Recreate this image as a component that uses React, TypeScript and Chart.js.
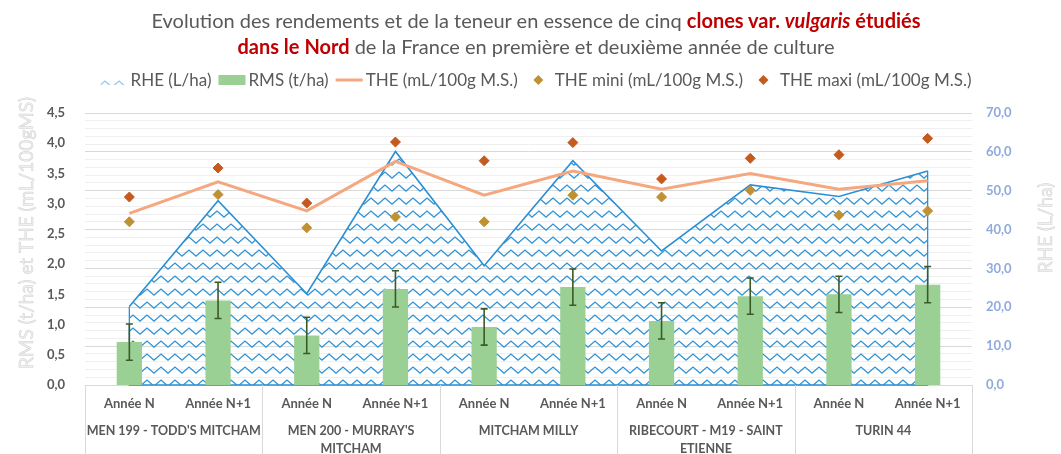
import React, { useEffect, useRef } from 'react';
import { Chart, registerables } from 'chart.js';

Chart.register(...registerables);

// ---- Data ----
const subLabels = ['Année N', 'Année N+1'];
const clones: string[][] = [
  ["MEN 199 - TODD'S MITCHAM"],
  ["MEN 200 - MURRAY'S", 'MITCHAM'],
  ['MITCHAM MILLY'],
  ['RIBECOURT - M19 - SAINT', 'ETIENNE'],
  ['TURIN 44'],
];
const categories: string[] = clones.flatMap(() => subLabels);

const rhe = [20.2, 47.4, 23.5, 60.1, 30.7, 57.7, 34.5, 51.5, 48.5, 55.1];
const rms = [0.71, 1.4, 0.82, 1.59, 0.96, 1.62, 1.06, 1.47, 1.5, 1.66];
const rmsErr = [0.3, 0.3, 0.3, 0.3, 0.3, 0.3, 0.3, 0.3, 0.3, 0.3];
const the = [2.84, 3.36, 2.88, 3.7, 3.14, 3.54, 3.24, 3.5, 3.24, 3.38];
const theMin = [2.7, 3.15, 2.6, 2.78, 2.7, 3.14, 3.11, 3.22, 2.81, 2.88];
const theMax = [3.11, 3.59, 3.01, 4.02, 3.71, 4.01, 3.41, 3.75, 3.81, 4.08];

const leftTicksMax = 4.5;
const rightTicksMax = 70;

const seriesNames = [
  'RHE (L/ha)',
  'RMS (t/ha)',
  'THE (mL/100g M.S.)',
  'THE mini (mL/100g M.S.)',
  'THE maxi (mL/100g M.S.)',
];
const leftTitle = 'RMS (t/ha) et THE (mL/100gMS)';
const rightTitle = 'RHE (L/ha)';

// ---- Styles ----
const FONT = 'Lato, "Open Sans", sans-serif';
const GRAY = '#595959';
const BLUE = '#2B8FD4';
const PAT_BLUE = '#2F93D6';
const GREEN = '#9BD094';
const SALMON = '#F5A77F';
const MINI = '#BF9135';
const MAXI = '#C55A1E';
const ERR = '#3A5A28';

function makePattern(alpha = 1): CanvasPattern | string {
  const c = document.createElement('canvas');
  c.width = 14;
  c.height = 13;
  const g = c.getContext('2d');
  if (!g) return PAT_BLUE;
  g.globalAlpha = alpha;
  g.strokeStyle = PAT_BLUE;
  g.lineWidth = 1.25;
  g.lineJoin = 'miter';
  g.beginPath();
  g.moveTo(-1, 10);
  g.lineTo(7, 3);
  g.lineTo(15, 10);
  g.stroke();
  const p = g.createPattern(c, 'repeat');
  return p || PAT_BLUE;
}

export default function App() {
  const ref = useRef<HTMLCanvasElement | null>(null);

  useEffect(() => {
    if (!ref.current) return;
    const pattern = makePattern();
    const legendPattern = makePattern(0.5);

    const errorBars = {
      id: 'errorBars',
      afterDatasetDraw(chart: any, args: any) {
        if (args.index !== 1) return;
        const ctx = chart.ctx;
        const y = chart.scales.y;
        ctx.save();
        ctx.strokeStyle = ERR;
        ctx.lineWidth = 1.6;
        args.meta.data.forEach((el: any, i: number) => {
          const x = el.x;
          const top = y.getPixelForValue(rms[i] + rmsErr[i]);
          const bot = y.getPixelForValue(rms[i] - rmsErr[i]);
          ctx.beginPath();
          ctx.moveTo(x, top);
          ctx.lineTo(x, bot);
          ctx.moveTo(x - 3.5, top);
          ctx.lineTo(x + 3.5, top);
          ctx.moveTo(x - 3.5, bot);
          ctx.lineTo(x + 3.5, bot);
          ctx.stroke();
        });
        ctx.restore();
      },
    };

    const areaOutline = {
      id: 'areaOutline',
      afterDatasetDraw(chart: any, args: any) {
        if (args.index !== 0) return;
        const pts = args.meta.data;
        const base = chart.scales.y1.getPixelForValue(0);
        const ctx = chart.ctx;
        ctx.save();
        ctx.strokeStyle = BLUE;
        ctx.lineWidth = 1.3;
        ctx.beginPath();
        ctx.moveTo(pts[0].x, pts[0].y);
        ctx.lineTo(pts[0].x, base);
        ctx.lineTo(pts[pts.length - 1].x, base);
        ctx.lineTo(pts[pts.length - 1].x, pts[pts.length - 1].y);
        ctx.stroke();
        ctx.restore();
      },
    };

    const decorations = {
      id: 'decorations',
      afterDraw(chart: any) {
        const ctx = chart.ctx;
        const xs = chart.scales.x;
        const area = chart.chartArea;
        ctx.save();
        // x labels
        ctx.fillStyle = GRAY;
        ctx.textAlign = 'center';
        ctx.textBaseline = 'middle';
        ctx.font = `bold 13px ${FONT}`;
        categories.forEach((lab, i) => {
          ctx.fillText(lab, xs.getPixelForValue(i), area.bottom + 19);
        });
        ctx.font = `bold 12.5px ${FONT}`;
        clones.forEach((lines, g) => {
          const cx = (xs.getPixelForValue(2 * g) + xs.getPixelForValue(2 * g + 1)) / 2;
          lines.forEach((ln, k) => {
            ctx.fillText(ln, cx, area.bottom + 46 + k * 17.5);
          });
        });
        // separators
        ctx.strokeStyle = '#D9D9D9';
        ctx.lineWidth = 1;
        const seps: number[] = [area.left];
        for (let g = 1; g < clones.length; g++) {
          seps.push((xs.getPixelForValue(2 * g - 1) + xs.getPixelForValue(2 * g)) / 2);
        }
        seps.push(area.right);
        seps.forEach((sx) => {
          const px = Math.round(sx) + 0.5;
          ctx.beginPath();
          ctx.moveTo(px, area.bottom);
          ctx.lineTo(px, chart.height);
          ctx.stroke();
        });

        // axis titles
        ctx.font = `19px ${FONT}`;
        ctx.fillStyle = '#F0F0F0';
        ctx.strokeStyle = '#D0D0D0';
        ctx.lineWidth = 0.5;
        ctx.save();
        ctx.translate(27, 233);
        ctx.rotate(-Math.PI / 2);
        ctx.fillText(leftTitle, 0, 0);
        ctx.strokeText(leftTitle, 0, 0);
        ctx.restore();
        ctx.save();
        ctx.translate(1046, 228);
        ctx.rotate(-Math.PI / 2);
        ctx.fillText(rightTitle, 0, 0);
        ctx.strokeText(rightTitle, 0, 0);
        ctx.restore();

        // legend
        ctx.font = `17px ${FONT}`;
        ctx.textAlign = 'left';
        const sw = 27;
        const gapT = 3;
        const gapI = 7;
        const widths = seriesNames.map((n) => ctx.measureText(n).width);
        const total = widths.reduce((a, w) => a + sw + gapT + w, 0) + gapI * (seriesNames.length - 1);
        let lx = 536 - total / 2;
        const ly = 80;
        seriesNames.forEach((name, i) => {
          if (i === 0) {
            ctx.fillStyle = legendPattern as any;
            ctx.fillRect(lx, ly - 5, sw, 10);
          } else if (i === 1) {
            ctx.fillStyle = GREEN;
            ctx.fillRect(lx, ly - 5, sw, 10);
          } else if (i === 2) {
            ctx.strokeStyle = SALMON;
            ctx.lineWidth = 3;
            ctx.beginPath();
            ctx.moveTo(lx, ly);
            ctx.lineTo(lx + sw, ly);
            ctx.stroke();
          } else {
            ctx.fillStyle = i === 3 ? MINI : MAXI;
            const cx = lx + sw / 2;
            ctx.beginPath();
            ctx.moveTo(cx - 5, ly);
            ctx.lineTo(cx, ly - 5);
            ctx.lineTo(cx + 5, ly);
            ctx.lineTo(cx, ly + 5);
            ctx.closePath();
            ctx.fill();
          }
          ctx.fillStyle = GRAY;
          ctx.fillText(name, lx + sw + gapT, ly + 1);
          lx += sw + gapT + widths[i] + gapI;
        });
        ctx.restore();
      },
    };

    const fmt = (v: number) => v.toFixed(1).replace('.', ',');

    const chart = new Chart(ref.current, {
      type: 'bar',
      data: {
        labels: categories,
        datasets: [
          {
            type: 'line',
            label: seriesNames[0],
            data: rhe,
            yAxisID: 'y1',
            fill: 'origin',
            backgroundColor: pattern as any,
            borderColor: BLUE,
            borderWidth: 1.6,
            pointRadius: 0,
            tension: 0,
            order: 5,
          } as any,
          {
            type: 'bar',
            label: seriesNames[1],
            data: rms,
            yAxisID: 'y',
            backgroundColor: GREEN,
            categoryPercentage: 0.285,
            barPercentage: 1,
            order: 4,
          },
          {
            type: 'line',
            label: seriesNames[2],
            data: the,
            yAxisID: 'y',
            borderColor: SALMON,
            borderWidth: 3,
            pointRadius: 0,
            fill: false,
            order: 3,
          },
          {
            type: 'line',
            label: seriesNames[3],
            data: theMin,
            yAxisID: 'y',
            showLine: false,
            pointStyle: 'rectRot',
            pointRadius: 5,
            pointBorderWidth: 1,
            backgroundColor: MINI,
            borderColor: MINI,
            order: 2,
          },
          {
            type: 'line',
            label: seriesNames[4],
            data: theMax,
            yAxisID: 'y',
            showLine: false,
            pointStyle: 'rectRot',
            pointRadius: 5,
            pointBorderWidth: 1,
            backgroundColor: MAXI,
            borderColor: MAXI,
            order: 1,
          },
        ],
      },
      options: {
        responsive: false,
        animation: false,
        layout: { padding: { top: 113, left: 0, right: 0, bottom: 0 } },
        plugins: {
          legend: { display: false },
          title: { display: false },
          tooltip: { enabled: false },
        },
        scales: {
          x: {
            type: 'category',
            offset: true,
            ticks: { display: false },
            grid: { display: false },
            border: { display: true, color: '#D9D9D9' },
            afterFit: (s: any) => {
              s.height = 69;
            },
          },
          y: {
            position: 'left',
            min: 0,
            max: leftTicksMax,
            ticks: {
              stepSize: 0.5,
              color: GRAY,
              font: { family: FONT, size: 13, weight: 'bold' },
              padding: 12,
              callback: (v: any) => fmt(Number(v)),
            },
            grid: { display: false },
            border: { display: false },
            afterFit: (s: any) => {
              s.width = 85;
            },
          },
          y1: {
            position: 'right',
            min: 0,
            max: rightTicksMax,
            ticks: {
              stepSize: 2,
              autoSkip: false,
              color: '#8FAADC',
              font: { family: FONT, size: 13, weight: 'bold' },
              padding: 14,
              callback: (v: any) => (Number(v) % 10 === 0 ? fmt(Number(v)) : ''),
            },
            grid: {
              drawTicks: false,
              color: (c: any) => (c.tick && c.tick.value % 10 === 0 ? '#D9D9D9' : '#EFEFEF'),
              lineWidth: 1,
            },
            border: { display: false },
            afterFit: (s: any) => {
              s.width = 89;
            },
          },
        },
      } as any,
      plugins: [areaOutline, errorBars, decorations],
    });
    return () => chart.destroy();
  }, []);

  return (
    <div style={{ position: 'absolute', left: 0, top: 0, width: 1061, height: 454, background: '#fff' }}>
      <canvas ref={ref} width={1061} height={454} style={{ position: 'absolute', left: 0, top: 0 }} />
      <div
        style={{
          position: 'absolute',
          top: 7,
          left: 0,
          width: 1061,
          paddingLeft: 11,
          boxSizing: 'border-box',
          textAlign: 'center',
          fontFamily: FONT,
          fontSize: 20,
          lineHeight: '26px',
          color: GRAY,
        }}
      >
        Evolution des rendements et de la teneur en essence de cinq{' '}
        <b style={{ color: '#C00000' }}>
          clones var. <i>vulgaris</i> étudiés
        </b>
        <br />
        <b style={{ color: '#C00000' }}>dans le Nord</b> de la France en première et deuxième année de culture
      </div>
    </div>
  );
}
